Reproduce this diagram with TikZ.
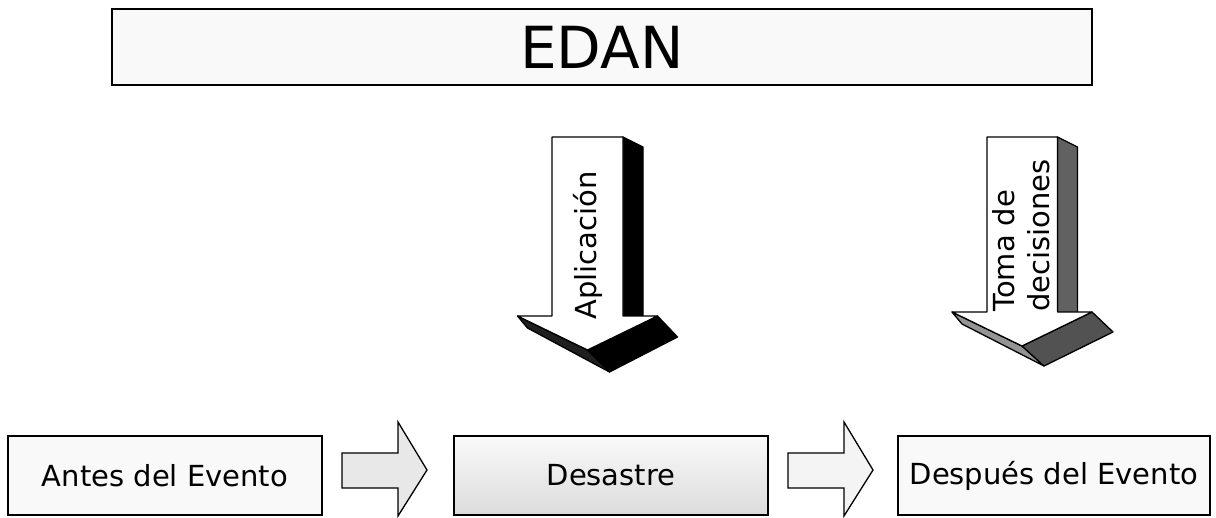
\documentclass[tikz,border=0pt]{standalone}
\usepackage{fontspec}
\setmainfont{DejaVu Sans}
\begin{document}
\begin{tikzpicture}[x=1pt,y=-1pt,
  box/.style={draw=black, line width=1.8pt, minimum height=79pt, inner sep=0pt,
    font=\fontsize{29}{35}\selectfont},
  lbl/.style={inner sep=0pt, font=\fontsize{29}{35}\selectfont},
  flow/.style={draw=black, line width=1.3pt, line join=miter},
  face/.style={draw=black, line width=1.3pt, line join=round}]
\useasboundingbox (0,0) rectangle (1216,517);
% title
\node[draw=black, line width=2.6pt, minimum width=980pt, minimum height=76pt, inner sep=0pt,
  fill=gray!5, font=\fontsize{58}{60}\selectfont] (edan) at (602,47) {EDAN};
% bottom boxes
\node[box, minimum width=314pt, fill=gray!5] (antes) at (165,475.5) {Antes del Evento};
\node[box, minimum width=314pt, top color=gray!4, bottom color=gray!28] (desastre) at (611,475.5) {Desastre};
\node[box, minimum width=312pt, fill=gray!5] (despues) at (1054,475.5) {Después del Evento};
% small flow arrows
\draw[flow, fill=gray!18] (342,453) -- (398,453) -- (398,422) -- (427,470) -- (398,516) -- (398,488) -- (342,488) -- cycle;
\draw[flow, fill=gray!9] (788,453) -- (844,453) -- (844,422) -- (873,470) -- (844,516) -- (844,488) -- (788,488) -- cycle;
% 3D arrow: Aplicacion
\begin{scope}[shift={(587.5,0)}]
  \draw[face, fill=black] (35.5,137) -- (55.5,147) -- (55.5,318) -- (35.5,318) -- cycle;
  \draw[face, fill=black!88] (-70,316) -- (0,350) -- (22,372) -- (-60,328) -- cycle;
  \draw[face, fill=black] (70,316) -- (90,337) -- (22,372) -- (0,350) -- cycle;
  \draw[face, fill=white] (-35.5,137) -- (35.5,137) -- (35.5,316) -- (70,316) -- (0,350) -- (-70,316) -- (-35.5,316) -- cycle;
\end{scope}
\node[lbl, rotate=90, anchor=west] (aplic) at (588,320) {Aplicación};
% 3D arrow: Toma de decisiones
\begin{scope}[shift={(1022,-4)}]
  \draw[face, fill=black!62] (35.5,141) -- (55.5,151) -- (55.5,318) -- (35.5,318) -- cycle;
  \draw[face, fill=black!42] (-70,316) -- (0,350) -- (22,370) -- (-60,328) -- cycle;
  \draw[face, fill=black!68] (70,316) -- (91,336) -- (22,370) -- (0,350) -- cycle;
  \draw[face, fill=white] (-35,141) -- (35.5,141) -- (35.5,316) -- (70,316) -- (0,350) -- (-70,316) -- (-35,316) -- cycle;
\end{scope}
\node[lbl, rotate=90, anchor=west, align=left] (toma) at (1021,312) {Toma de\\decisiones};
\end{tikzpicture}
\end{document}
